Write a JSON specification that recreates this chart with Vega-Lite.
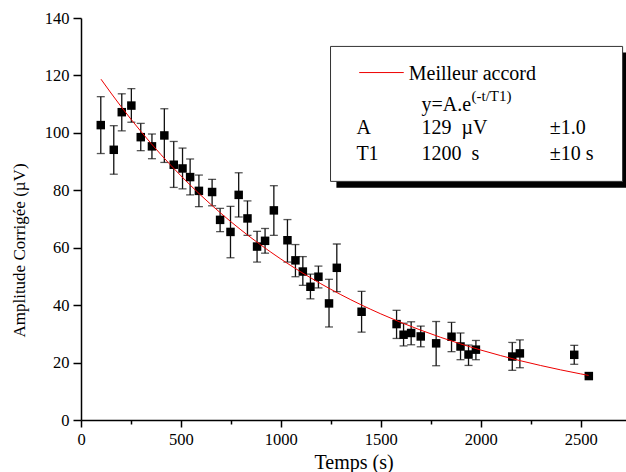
{
  "$schema": "https://vega.github.io/schema/vega-lite/v6.json",
  "width": 545,
  "height": 402,
  "autosize": {"type": "none"},
  "padding": {"left": 81, "top": 18, "right": 0, "bottom": 52},
  "background": "white",
  "config": {
    "view": {"stroke": null},
    "font": "Liberation Serif",
    "axis": {
      "labelFont": "Liberation Serif",
      "titleFont": "Liberation Serif",
      "labelColor": "black",
      "titleColor": "black",
      "domainColor": "black",
      "tickColor": "black",
      "domainWidth": 1.5,
      "tickWidth": 1.5,
      "grid": false,
      "labelFontSize": 16.5,
      "titleFontWeight": "normal"
    }
  },
  "datasets": {
    "pts": [
      {"t": 99, "amp": 102.7, "lo": 92.8, "hi": 112.6},
      {"t": 164, "amp": 94.1, "lo": 85.6, "hi": 102.5},
      {"t": 204, "amp": 107.2, "lo": 100.7, "hi": 113.6},
      {"t": 252, "amp": 109.5, "lo": 103.7, "hi": 115.4},
      {"t": 299, "amp": 98.5, "lo": 93.8, "hi": 103.3},
      {"t": 355, "amp": 95.3, "lo": 91.0, "hi": 99.6},
      {"t": 417, "amp": 99.1, "lo": 89.7, "hi": 108.4},
      {"t": 464, "amp": 88.9, "lo": 81.0, "hi": 97.0},
      {"t": 508, "amp": 87.6, "lo": 80.5, "hi": 94.7},
      {"t": 546, "amp": 84.6, "lo": 78.4, "hi": 90.9},
      {"t": 590, "amp": 79.8, "lo": 74.3, "hi": 85.3},
      {"t": 656, "amp": 79.4, "lo": 74.6, "hi": 83.8},
      {"t": 696, "amp": 69.7, "lo": 65.6, "hi": 73.7},
      {"t": 748, "amp": 65.5, "lo": 56.5, "hi": 74.4},
      {"t": 789, "amp": 78.4, "lo": 70.7, "hi": 86.1},
      {"t": 833, "amp": 70.2, "lo": 64.3, "hi": 76.3},
      {"t": 881, "amp": 60.4, "lo": 55.0, "hi": 65.7},
      {"t": 921, "amp": 62.4, "lo": 58.1, "hi": 66.7},
      {"t": 965, "amp": 73.0, "lo": 64.3, "hi": 81.6},
      {"t": 1033, "amp": 62.6, "lo": 55.0, "hi": 69.8},
      {"t": 1073, "amp": 55.6, "lo": 49.9, "hi": 61.1},
      {"t": 1110, "amp": 51.7, "lo": 46.9, "hi": 56.9},
      {"t": 1148, "amp": 46.4, "lo": 42.2, "hi": 50.8},
      {"t": 1188, "amp": 49.9, "lo": 46.0, "hi": 53.6},
      {"t": 1241, "amp": 40.6, "lo": 32.4, "hi": 49.0},
      {"t": 1280, "amp": 53.0, "lo": 44.7, "hi": 61.3},
      {"t": 1404, "amp": 37.7, "lo": 30.6, "hi": 44.8},
      {"t": 1579, "amp": 33.4, "lo": 28.4, "hi": 38.2},
      {"t": 1614, "amp": 29.7, "lo": 25.8, "hi": 33.7},
      {"t": 1652, "amp": 30.3, "lo": 26.2, "hi": 34.2},
      {"t": 1700, "amp": 29.1, "lo": 25.5, "hi": 32.7},
      {"t": 1777, "amp": 26.7, "lo": 18.9, "hi": 34.3},
      {"t": 1854, "amp": 29.0, "lo": 23.8, "hi": 34.0},
      {"t": 1899, "amp": 25.6, "lo": 21.0, "hi": 30.3},
      {"t": 1939, "amp": 22.8, "lo": 19.0, "hi": 26.1},
      {"t": 1976, "amp": 24.5, "lo": 21.0, "hi": 27.7},
      {"t": 2158, "amp": 22.1, "lo": 17.3, "hi": 27.0},
      {"t": 2196, "amp": 23.2, "lo": 18.2, "hi": 27.9},
      {"t": 2468, "amp": 22.7, "lo": 19.4, "hi": 26.0},
      {"t": 2541, "amp": 15.3, "lo": 15.3, "hi": 15.3}
    ],
    "fit": [
      {"t": 100, "amp": 118.69}, {"t": 200, "amp": 109.20}, {"t": 300, "amp": 100.47},
      {"t": 400, "amp": 92.43}, {"t": 500, "amp": 85.04}, {"t": 600, "amp": 78.24},
      {"t": 700, "amp": 71.99}, {"t": 800, "amp": 66.23}, {"t": 900, "amp": 60.94},
      {"t": 1000, "amp": 56.06}, {"t": 1100, "amp": 51.58}, {"t": 1200, "amp": 47.46},
      {"t": 1300, "amp": 43.66}, {"t": 1400, "amp": 40.17}, {"t": 1500, "amp": 36.96},
      {"t": 1600, "amp": 34.00}, {"t": 1700, "amp": 31.29}, {"t": 1800, "amp": 28.78},
      {"t": 1900, "amp": 26.48}, {"t": 2000, "amp": 24.37}, {"t": 2100, "amp": 22.42},
      {"t": 2200, "amp": 20.62}, {"t": 2300, "amp": 18.98}, {"t": 2400, "amp": 17.46},
      {"t": 2500, "amp": 16.06}, {"t": 2540, "amp": 15.54}
    ],
    "box": [
      {"part": "shadow", "x1": 1278, "x2": 2727, "y1": 80.9, "y2": 128.0},
      {"part": "frame", "x1": 1248.5, "x2": 2710, "y1": 83.1, "y2": 130.1}
    ],
    "legline": [{"x1": 1392, "x2": 1615, "y": 121.0}],
    "legtext": [
      {"x": 1640, "y": 118.5, "label": "Meilleur accord", "kind": "main"},
      {"x": 1704, "y": 107.5, "label": "y=A.e", "kind": "main"},
      {"x": 1954, "y": 111.2, "label": "(-t/T1)", "kind": "sup"},
      {"x": 1378, "y": 99.7, "label": "A", "kind": "main"},
      {"x": 1704, "y": 99.7, "label": "129\u00a0\u00a0µV", "kind": "main"},
      {"x": 2346, "y": 99.7, "label": "±1.0", "kind": "main"},
      {"x": 1378, "y": 90.4, "label": "T1", "kind": "main"},
      {"x": 1704, "y": 90.4, "label": "1200\u00a0\u00a0s", "kind": "main"},
      {"x": 2346, "y": 90.4, "label": "±10 s", "kind": "main"}
    ]
  },
  "layer": [
    {
      "data": {"name": "box"},
      "transform": [{"filter": "datum.part === 'shadow'"}],
      "mark": {"type": "rect", "fill": "black", "clip": true},
      "encoding": {
        "x": {"field": "x1", "type": "quantitative", "title": "Temps (s)"},
        "x2": {"field": "x2"},
        "y": {"field": "y1", "type": "quantitative", "title": "Amplitude Corrigée (µV)"},
        "y2": {"field": "y2"}
      }
    },
    {
      "data": {"name": "box"},
      "transform": [{"filter": "datum.part === 'frame'"}],
      "mark": {"type": "rect", "fill": "white", "stroke": "#333333", "strokeWidth": 1},
      "encoding": {
        "x": {"field": "x1", "type": "quantitative", "title": "Temps (s)"},
        "x2": {"field": "x2"},
        "y": {"field": "y1", "type": "quantitative", "title": "Amplitude Corrigée (µV)"},
        "y2": {"field": "y2"}
      }
    },
    {
      "data": {"name": "pts"},
      "mark": {"type": "rule", "color": "#111111", "strokeWidth": 1.3},
      "encoding": {
        "x": {"field": "t", "type": "quantitative", "title": "Temps (s)"},
        "y": {"field": "lo", "type": "quantitative", "title": "Amplitude Corrigée (µV)"},
        "y2": {"field": "hi"}
      }
    },
    {
      "data": {"name": "pts"},
      "mark": {"type": "tick", "orient": "horizontal", "color": "#111111", "thickness": 1.3, "size": 8},
      "encoding": {
        "x": {"field": "t", "type": "quantitative", "title": "Temps (s)"},
        "y": {"field": "lo", "type": "quantitative", "title": "Amplitude Corrigée (µV)"}
      }
    },
    {
      "data": {"name": "pts"},
      "mark": {"type": "tick", "orient": "horizontal", "color": "#111111", "thickness": 1.3, "size": 8},
      "encoding": {
        "x": {"field": "t", "type": "quantitative", "title": "Temps (s)"},
        "y": {"field": "hi", "type": "quantitative", "title": "Amplitude Corrigée (µV)"}
      }
    },
    {
      "data": {"name": "pts"},
      "mark": {"type": "point", "shape": "square", "filled": true, "color": "black", "size": 72, "opacity": 1},
      "encoding": {
        "x": {
          "field": "t", "type": "quantitative",
          "title": "Temps (s)",
          "scale": {"domain": [0, 2727], "nice": false, "zero": false},
          "axis": {
            "values": [0, 250, 500, 750, 1000, 1250, 1500, 1750, 2000, 2250, 2500],
            "format": "d",
            "labelExpr": "datum.value % 500 === 0 ? datum.label : ''",
            "tickSize": {"condition": {"test": "datum.value % 500 === 0", "value": 7}, "value": 4},
            "labelPadding": 4.5,
            "titleFontSize": 20,
            "titleY": 48,
            "titleBaseline": "alphabetic",
            "labelFlush": false,
            "labelOverlap": false
          }
        },
        "y": {
          "field": "amp", "type": "quantitative",
          "title": "Amplitude Corrigée (µV)",
          "scale": {"domain": [0, 140], "nice": false},
          "axis": {
            "values": [0, 10, 20, 30, 40, 50, 60, 70, 80, 90, 100, 110, 120, 130, 140],
            "labelExpr": "datum.value % 20 === 0 ? datum.label : ''",
            "tickSize": {"condition": {"test": "datum.value % 20 === 0", "value": 8}, "value": 4},
            "labelPadding": 4,
            "titleFontSize": 17,
            "titleX": -57,
            "titleY": 232,
            "titleAlign": "center",
            "titleBaseline": "alphabetic",
            "labelFlush": false,
            "labelOverlap": false
          }
        }
      }
    },
    {
      "data": {"name": "fit"},
      "mark": {"type": "line", "color": "#ee0000", "strokeWidth": 1, "interpolate": "monotone"},
      "encoding": {
        "x": {"field": "t", "type": "quantitative", "title": "Temps (s)"},
        "y": {"field": "amp", "type": "quantitative", "title": "Amplitude Corrigée (µV)"}
      }
    },
    {
      "data": {"name": "legline"},
      "mark": {"type": "rule", "color": "#ee0000", "strokeWidth": 1},
      "encoding": {
        "x": {"field": "x1", "type": "quantitative", "title": "Temps (s)"},
        "x2": {"field": "x2"},
        "y": {"field": "y", "type": "quantitative", "title": "Amplitude Corrigée (µV)"}
      }
    },
    {
      "data": {"name": "legtext"},
      "transform": [{"filter": "datum.kind === 'main'"}],
      "mark": {"type": "text", "align": "left", "baseline": "alphabetic", "font": "Liberation Serif", "fontSize": 20, "color": "black"},
      "encoding": {
        "x": {"field": "x", "type": "quantitative", "title": "Temps (s)"},
        "y": {"field": "y", "type": "quantitative", "title": "Amplitude Corrigée (µV)"},
        "text": {"field": "label"}
      }
    },
    {
      "data": {"name": "legtext"},
      "transform": [{"filter": "datum.kind === 'sup'"}],
      "mark": {"type": "text", "align": "left", "baseline": "alphabetic", "font": "Liberation Serif", "fontSize": 15, "color": "black"},
      "encoding": {
        "x": {"field": "x", "type": "quantitative", "title": "Temps (s)"},
        "y": {"field": "y", "type": "quantitative", "title": "Amplitude Corrigée (µV)"},
        "text": {"field": "label"}
      }
    }
  ]
}
